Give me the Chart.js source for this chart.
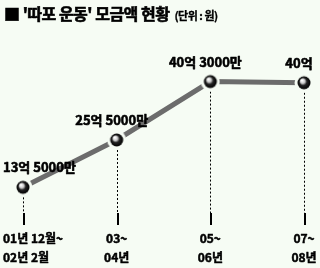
<!DOCTYPE html>
<html><head><meta charset="utf-8">
<script src="https://cdn.jsdelivr.net/npm/chart.js@4"></script>
<style>
html,body{margin:0;padding:0;background:#f6fcf4;}
#wrap{position:relative;width:320px;height:268px;}
#title{position:absolute;left:4px;top:3px;font:bold 16px "Noto Sans CJK KR";color:#000;white-space:nowrap;letter-spacing:-0.5px;line-height:20px;-webkit-text-stroke:0.6px #000;}
#title small{font:bold 11px "Noto Sans CJK KR";letter-spacing:-0.5px;margin-left:5px;-webkit-text-stroke:0.3px #000;}
</style></head>
<body><div id="wrap"><canvas id="c" width="320" height="268"></canvas>
<div id="title">■ '따포 운동' 모금액 현황<small>(단위 : 원)</small></div></div>
<script>
const categories = [["01년 12월~","02년 2월"],["03~","04년"],["05~","06년"],["07~","08년"]];
const amounts = [13.5, 25.5, 40.3, 40];   // 억 원
const amountLabels = ["13억 5000만","25억 5000만","40억 3000만","40억"];

const BG = '#f6fcf4';
// sphere marker with background ring
const ball = document.createElement('canvas');
ball.width = 20; ball.height = 20;
(function(){
  const g = ball.getContext('2d');
  g.fillStyle = BG;
  g.beginPath(); g.arc(10,10,9.5,0,Math.PI*2); g.fill();
  const grad = g.createRadialGradient(8,7.5,0.5,10,10,6.5);
  grad.addColorStop(0,'#ffffff');
  grad.addColorStop(0.3,'#c8c8c8');
  grad.addColorStop(0.55,'#222');
  grad.addColorStop(1,'#000');
  g.fillStyle = grad;
  g.beginPath(); g.arc(10,10,6.5,0,Math.PI*2); g.fill();
})();

const FONT = '"Noto Sans CJK KR"';
function heavyText(ctx, t, x, y, sw){
  ctx.lineWidth = sw; ctx.strokeStyle = '#000'; ctx.lineJoin='round';
  ctx.strokeText(t, x, y); ctx.fillText(t, x, y);
}
const deco = {
  id:'deco',
  beforeDatasetsDraw(chart){
    const ctx = chart.ctx, meta = chart.getDatasetMeta(0), b = chart.chartArea.bottom;
    ctx.save();
    meta.data.forEach(p=>{
      ctx.strokeStyle='#000';
      ctx.lineWidth=1;
      ctx.setLineDash([2,2]);
      ctx.beginPath(); ctx.moveTo(Math.round(p.x)+0.5,p.y+6); ctx.lineTo(Math.round(p.x)+0.5,b); ctx.stroke();
      ctx.setLineDash([]);
      ctx.lineWidth=2;
      ctx.beginPath(); ctx.moveTo(Math.round(p.x)+1,b); ctx.lineTo(Math.round(p.x)+1,b+12); ctx.stroke();
    });
    ctx.restore();
  },
  afterDraw(chart){
    const ctx = chart.ctx, meta = chart.getDatasetMeta(0), W = chart.width;
    const xs = chart.scales.x;
    ctx.save();
    ctx.fillStyle='#000';
    ctx.textBaseline='middle';
    ctx.textAlign='left';
    ctx.font='bold 13px '+FONT;
    meta.data.forEach((p,i)=>{
      const t = amountLabels[i];
      const w = ctx.measureText(t).width;
      let l = p.x - 5 - w/2;
      l = Math.max(3, Math.min(W-2-w, l));
      heavyText(ctx, t, l, p.y-20, 0.6);
    });
    ctx.font='bold 12px '+FONT;
    categories.forEach((lines,i)=>{
      const x = xs.getPixelForValue(i);
      let wmax = Math.max(...lines.map(s=>ctx.measureText(s).width));
      lines.forEach((s,j)=>{
        const w = ctx.measureText(s).width;
        let l = x - w/2;
        if (x - wmax/2 < 3) l = 3;
        heavyText(ctx, s, l, 238 + j*19, 0.5);
      });
    });
    ctx.restore();
  }
};

new Chart(document.getElementById('c'),{
  type:'line',
  data:{labels:categories.map(c=>c.join(' ')),datasets:[{
    data:amounts,
    borderColor:'#6c6c6c',
    borderWidth:5,
    pointStyle:ball,
    pointRadius:10,
    clip:false,
    tension:0
  }]},
  options:{
    responsive:false,animation:false,
    layout:{padding:{left:23,right:16,top:50,bottom:55}},
    plugins:{legend:{display:false},tooltip:{enabled:false}},
    scales:{
      x:{display:false,offset:false},
      y:{display:false,min:7,max:48.3}
    }
  },
  plugins:[deco]
});
</script></body></html>
